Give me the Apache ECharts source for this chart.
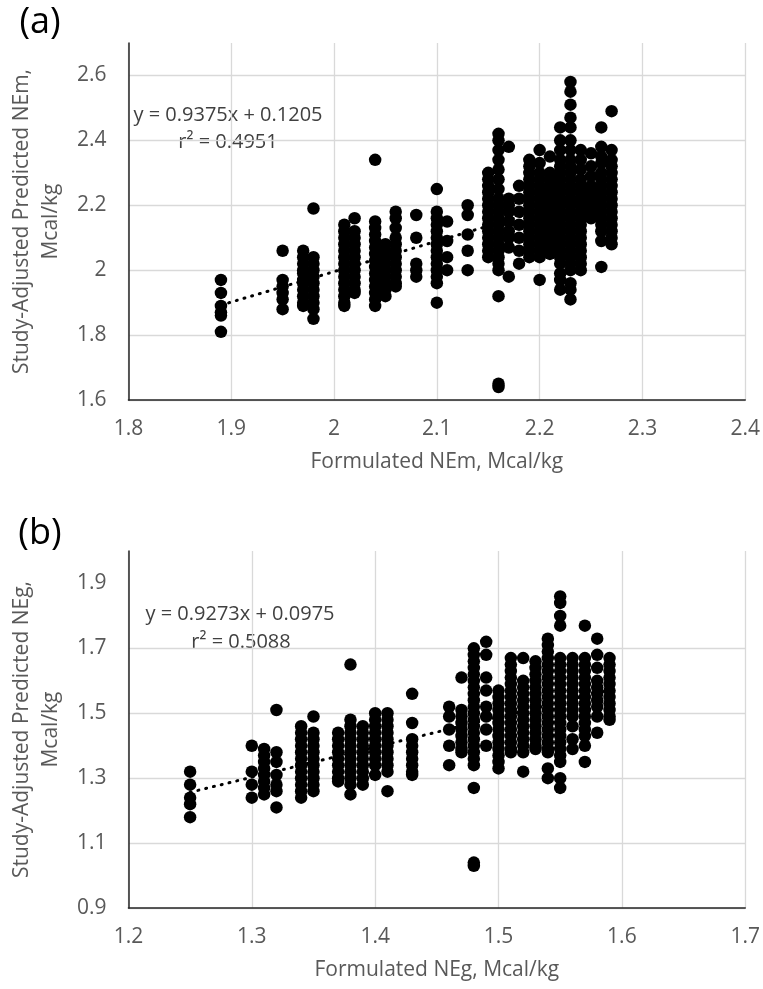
<!DOCTYPE html>
<html><head><meta charset="utf-8">
<script src="https://cdn.jsdelivr.net/npm/echarts@6/dist/echarts.min.js"></script>
<style>html,body{margin:0;padding:0;background:#fff}#c{width:763px;height:989px}</style>
</head><body><div id="c"></div>
<script>
// Panel (a): Formulated NEm vs Study-Adjusted Predicted NEm
const nemX = [1.89, 1.95, 1.97, 1.98, 2.01, 2.02, 2.04, 2.05, 2.06, 2.08, 2.10, 2.11, 2.13, 2.15, 2.16, 2.17, 2.18, 2.19, 2.20, 2.21, 2.22, 2.23, 2.24, 2.25, 2.26, 2.27];
const nemY = [
  [1.97, 1.93, 1.89, 1.87, 1.86, 1.81],
  [2.06, 1.97, 1.95, 1.93, 1.91, 1.88],
  [2.06, 2.04, 2.02, 2.0, 1.99, 1.97, 1.96, 1.94, 1.92, 1.90, 1.89],
  [2.19, 2.04, 2.02, 2.0, 1.98, 1.96, 1.94, 1.92, 1.90, 1.88, 1.85],
  [2.14, 2.12, 2.10, 2.08, 2.06, 2.04, 2.02, 2.0, 1.98, 1.96, 1.94, 1.92, 1.90, 1.89],
  [2.16, 2.12, 2.10, 2.08, 2.06, 2.04, 2.02, 2.0, 1.98, 1.96, 1.94, 1.93],
  [2.34, 2.15, 2.13, 2.11, 2.09, 2.07, 2.05, 2.03, 2.01, 1.99, 1.97, 1.95, 1.93, 1.91, 1.89],
  [2.08, 2.06, 2.04, 2.02, 2.0, 1.98, 1.96, 1.94, 1.92],
  [2.18, 2.16, 2.13, 2.10, 2.08, 2.06, 2.04, 2.02, 2.0, 1.98, 1.96, 1.95],
  [2.17, 2.10, 2.02, 2.0, 1.98],
  [2.25, 2.18, 2.16, 2.14, 2.12, 2.10, 2.08, 2.06, 2.04, 2.02, 2.0, 1.98, 1.96, 1.90],
  [2.15, 2.09, 2.04, 2.0],
  [2.20, 2.17, 2.11, 2.06, 2.0],
  [2.30, 2.28, 2.26, 2.24, 2.22, 2.20, 2.18, 2.16, 2.14, 2.12, 2.10, 2.08, 2.06, 2.04],
  [2.42, 2.40, 2.37, 2.34, 2.31, 2.28, 2.25, 2.22, 2.20, 2.18, 2.16, 2.14, 2.12, 2.10, 2.08, 2.06, 2.04, 2.02, 2.0, 1.92, 1.65, 1.64],
  [2.38, 2.22, 2.20, 2.18, 2.15, 2.12, 2.10, 2.07, 1.98],
  [2.26, 2.22, 2.18, 2.14, 2.10, 2.06, 2.02],
  [2.34, 2.32, 2.30, 2.28, 2.26, 2.24, 2.22, 2.20, 2.18, 2.16, 2.14, 2.12, 2.10, 2.08, 2.06, 2.04],
  [2.37, 2.33, 2.30, 2.28, 2.26, 2.24, 2.22, 2.20, 2.18, 2.16, 2.14, 2.12, 2.10, 2.08, 2.06, 2.04, 1.97],
  [2.35, 2.30, 2.28, 2.26, 2.24, 2.22, 2.20, 2.18, 2.16, 2.14, 2.12, 2.10, 2.08, 2.06, 2.05],
  [2.44, 2.40, 2.37, 2.34, 2.32, 2.30, 2.28, 2.26, 2.24, 2.22, 2.20, 2.18, 2.16, 2.14, 2.12, 2.10, 2.08, 2.06, 2.04, 2.02, 1.99, 1.97, 1.94],
  [2.58, 2.55, 2.51, 2.47, 2.44, 2.40, 2.37, 2.34, 2.32, 2.30, 2.28, 2.26, 2.24, 2.22, 2.20, 2.18, 2.16, 2.14, 2.12, 2.10, 2.08, 2.06, 2.04, 2.02, 2.0, 1.96, 1.94, 1.91],
  [2.37, 2.34, 2.31, 2.28, 2.26, 2.24, 2.22, 2.20, 2.18, 2.16, 2.14, 2.12, 2.10, 2.08, 2.06, 2.04, 2.02, 2.0],
  [2.36, 2.32, 2.29, 2.26, 2.24, 2.22, 2.20, 2.18, 2.16],
  [2.44, 2.38, 2.35, 2.33, 2.30, 2.28, 2.26, 2.24, 2.22, 2.20, 2.18, 2.16, 2.14, 2.12, 2.09, 2.01],
  [2.49, 2.37, 2.34, 2.32, 2.30, 2.28, 2.26, 2.24, 2.22, 2.20, 2.18, 2.16, 2.14, 2.12, 2.10, 2.08]
];
const nemSlope = 0.9375, nemIntercept = 0.1205, nemR2 = '0.4951';
const nemXTicks = [1.8, 2.4, 0.1];   // min, max, interval
const nemYTicks = [1.6, 2.7, 0.2];

// Panel (b): Formulated NEg vs Study-Adjusted Predicted NEg
const negX = [1.25, 1.30, 1.31, 1.32, 1.34, 1.35, 1.37, 1.38, 1.39, 1.40, 1.41, 1.43, 1.46, 1.47, 1.48, 1.49, 1.50, 1.51, 1.52, 1.53, 1.54, 1.55, 1.56, 1.57, 1.58, 1.59];
const negY = [
  [1.32, 1.28, 1.24, 1.22, 1.18],
  [1.40, 1.32, 1.28, 1.24],
  [1.39, 1.37, 1.35, 1.33, 1.31, 1.29, 1.27, 1.25],
  [1.51, 1.38, 1.35, 1.31, 1.28, 1.26, 1.21],
  [1.46, 1.44, 1.42, 1.40, 1.38, 1.36, 1.34, 1.32, 1.30, 1.28, 1.26, 1.24],
  [1.49, 1.44, 1.42, 1.40, 1.38, 1.36, 1.34, 1.32, 1.30, 1.28, 1.26],
  [1.44, 1.42, 1.40, 1.38, 1.36, 1.34, 1.32, 1.30, 1.29],
  [1.65, 1.48, 1.46, 1.44, 1.42, 1.40, 1.38, 1.36, 1.34, 1.32, 1.30, 1.28, 1.25],
  [1.46, 1.44, 1.42, 1.40, 1.38, 1.36, 1.34, 1.32, 1.30, 1.28],
  [1.50, 1.48, 1.46, 1.44, 1.42, 1.40, 1.38, 1.36, 1.34, 1.31],
  [1.50, 1.48, 1.46, 1.44, 1.42, 1.40, 1.38, 1.36, 1.34, 1.32, 1.26],
  [1.56, 1.47, 1.42, 1.40, 1.38, 1.36, 1.34, 1.32, 1.31],
  [1.52, 1.49, 1.45, 1.40, 1.34],
  [1.61, 1.51, 1.49, 1.47, 1.45, 1.43, 1.41, 1.39, 1.38],
  [1.70, 1.68, 1.66, 1.64, 1.62, 1.60, 1.58, 1.56, 1.54, 1.52, 1.50, 1.48, 1.46, 1.44, 1.42, 1.40, 1.38, 1.36, 1.34, 1.27, 1.04, 1.03],
  [1.72, 1.68, 1.61, 1.57, 1.52, 1.49, 1.45, 1.40],
  [1.57, 1.55, 1.53, 1.51, 1.49, 1.47, 1.45, 1.43, 1.41, 1.39, 1.37, 1.35, 1.33],
  [1.67, 1.65, 1.63, 1.61, 1.59, 1.57, 1.55, 1.53, 1.51, 1.49, 1.47, 1.45, 1.43, 1.41, 1.39, 1.38],
  [1.67, 1.60, 1.58, 1.56, 1.54, 1.52, 1.50, 1.48, 1.46, 1.44, 1.42, 1.40, 1.38, 1.32],
  [1.66, 1.64, 1.62, 1.60, 1.58, 1.56, 1.54, 1.52, 1.50, 1.48, 1.46, 1.44, 1.42, 1.40, 1.39],
  [1.73, 1.71, 1.69, 1.67, 1.65, 1.63, 1.61, 1.59, 1.57, 1.55, 1.53, 1.51, 1.49, 1.47, 1.45, 1.43, 1.41, 1.39, 1.38, 1.33, 1.30],
  [1.86, 1.84, 1.80, 1.77, 1.67, 1.65, 1.63, 1.61, 1.59, 1.57, 1.55, 1.53, 1.51, 1.49, 1.47, 1.45, 1.43, 1.41, 1.39, 1.37, 1.35, 1.30, 1.27],
  [1.67, 1.65, 1.63, 1.61, 1.59, 1.57, 1.55, 1.53, 1.51, 1.49, 1.46, 1.42, 1.39],
  [1.77, 1.67, 1.65, 1.63, 1.61, 1.59, 1.57, 1.55, 1.53, 1.51, 1.49, 1.47, 1.45, 1.43, 1.40, 1.35],
  [1.73, 1.68, 1.64, 1.60, 1.58, 1.56, 1.54, 1.52, 1.49, 1.44],
  [1.67, 1.65, 1.63, 1.61, 1.59, 1.57, 1.55, 1.53, 1.51, 1.49, 1.48]
];
const negSlope = 0.9273, negIntercept = 0.0975, negR2 = '0.5088';
const negXTicks = [1.2, 1.7, 0.1];
const negYLabels = [0.9, 1.1, 1.3, 1.5, 1.7, 1.9];
const negYRange = [0.9, 2.0];

function pts(xs, ys) {
  const out = [];
  xs.forEach((x, i) => ys[i].forEach(y => out.push([x, y])));
  return out;
}
function trend(xs, m, b) {
  const lo = Math.min(...xs), hi = Math.max(...xs);
  return [[lo, m * lo + b], [hi, m * hi + b]];
}

const FONT = '"Open Sans", "Noto Sans", sans-serif';
const GRAY = '#595959';
const gridLine = { show: true, lineStyle: { color: '#d9d9d9', width: 1.3 } };
const axisLine = { show: true, onZero: false, lineStyle: { color: '#262626', width: 1.5 } };

function xAxis(idx, t, name) {
  return {
    type: 'value', gridIndex: idx, min: t[0], max: t[1], interval: t[2],
    axisLine, axisTick: { show: false }, splitLine: gridLine,
    axisLabel: { color: GRAY, fontSize: 21, fontFamily: FONT, margin: 19 },
    name, nameLocation: 'middle', nameGap: 52,
    nameTextStyle: { color: GRAY, fontSize: 21, fontFamily: FONT }
  };
}

const option = {
  animation: false,
  backgroundColor: '#fff',
  grid: [
    { left: 116, top: 43, width: 631, height: 357 },
    { left: 116, top: 551, width: 631, height: 357 }
  ],
  xAxis: [
    xAxis(0, nemXTicks, 'Formulated NEm, Mcal/kg'),
    xAxis(1, negXTicks, 'Formulated NEg, Mcal/kg')
  ],
  yAxis: [
    {
      type: 'value', gridIndex: 0, min: nemYTicks[0], max: nemYTicks[1], interval: nemYTicks[2],
      axisLine, axisTick: { show: false },
      splitLine: Object.assign({ showMaxLine: false }, gridLine),
      axisLabel: { color: GRAY, fontSize: 21, fontFamily: FONT, margin: 22, showMaxLabel: false },
      name: 'Study-Adjusted Predicted NEm,\nMcal/kg', nameLocation: 'middle', nameGap: 60,
      nameTextStyle: { color: GRAY, fontSize: 21, fontFamily: FONT, lineHeight: 29 }
    },
    {
      type: 'value', gridIndex: 1, min: negYRange[0], max: negYRange[1],
      axisLine, axisTick: { show: false, customValues: negYLabels },
      splitLine: Object.assign({ showMaxLine: false }, gridLine),
      axisLabel: { color: GRAY, fontSize: 21, fontFamily: FONT, margin: 22, customValues: negYLabels },
      name: 'Study-Adjusted Predicted NEg,\nMcal/kg', nameLocation: 'middle', nameGap: 60,
      nameTextStyle: { color: GRAY, fontSize: 21, fontFamily: FONT, lineHeight: 29 }
    }
  ],
  series: [
    { type: 'scatter', xAxisIndex: 0, yAxisIndex: 0, data: pts(nemX, nemY), symbolSize: 12.5,
      itemStyle: { color: '#000', opacity: 1 }, z: 2 },
    { type: 'line', xAxisIndex: 0, yAxisIndex: 0, data: trend(nemX, nemSlope, nemIntercept), symbol: 'none',
      lineStyle: { color: '#000', width: 3, type: [1, 7], cap: 'round' }, z: 3 },
    { type: 'scatter', xAxisIndex: 1, yAxisIndex: 1, data: pts(negX, negY), symbolSize: 12.5,
      itemStyle: { color: '#000', opacity: 1 }, z: 2 },
    { type: 'line', xAxisIndex: 1, yAxisIndex: 1, data: trend(negX, negSlope, negIntercept), symbol: 'none',
      lineStyle: { color: '#000', width: 3, type: [1, 7], cap: 'round' }, z: 3 }
  ],
  graphic: [
    { type: 'text', x: 40, y: 23, style: { text: '(a)', fontSize: 36, fontFamily: FONT, fill: '#000', align: 'center', verticalAlign: 'middle' } },
    { type: 'text', x: 40, y: 534, style: { text: '(b)', fontSize: 36, fontFamily: FONT, fill: '#000', align: 'center', verticalAlign: 'middle' } },
    { type: 'text', x: 228, y: 115, style: { text: 'y = ' + nemSlope + 'x + ' + nemIntercept, fontSize: 20, fontFamily: FONT, fill: '#404040', align: 'center', verticalAlign: 'middle' } },
    { type: 'text', x: 228, y: 142, style: { text: 'r² = ' + nemR2, fontSize: 20, fontFamily: FONT, fill: '#404040', align: 'center', verticalAlign: 'middle' } },
    { type: 'text', x: 240, y: 614, style: { text: 'y = ' + negSlope + 'x + ' + negIntercept, fontSize: 20, fontFamily: FONT, fill: '#404040', align: 'center', verticalAlign: 'middle' } },
    { type: 'text', x: 241, y: 642, style: { text: 'r² = ' + negR2, fontSize: 20, fontFamily: FONT, fill: '#404040', align: 'center', verticalAlign: 'middle' } }
  ]
};
const chart = echarts.init(document.getElementById('c'), null, { renderer: 'canvas' });
chart.setOption(option);
</script>
</body></html>
